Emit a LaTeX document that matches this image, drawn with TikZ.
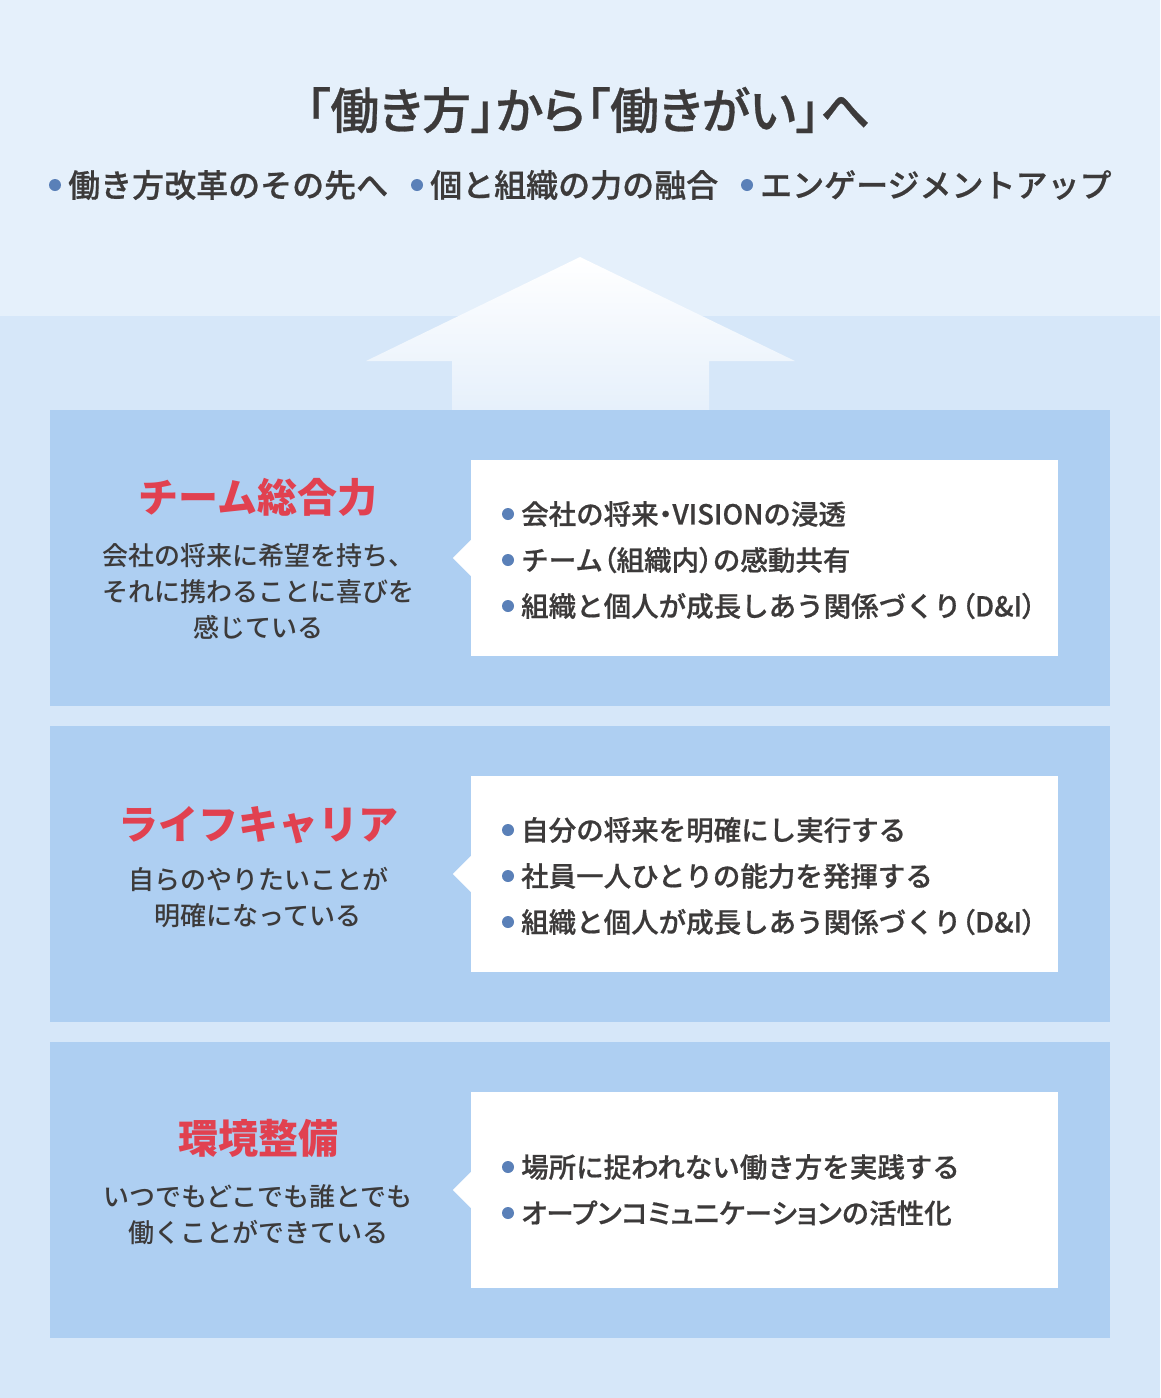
\documentclass[tikz,border=0pt]{standalone}
\usepackage{fontspec}
\setmainfont{Noto Sans CJK JP}
\newfontfamily\medfont{Noto Sans CJK JP Medium}
\newfontfamily\semifont{Noto Sans CJK JP Medium}[FakeBold=0.6]
\newcommand{\tight}[1]{{\addfontfeatures{RawFeature=+palt}#1}}
\usepackage{xcolor}
\definecolor{skytop}{RGB}{229, 240, 251}
\definecolor{skylow}{RGB}{214, 231, 249}
\definecolor{panelblue}{RGB}{174, 207, 242}
\definecolor{arrowfoot}{RGB}{230, 240, 251}
\definecolor{titlered}{RGB}{225, 65, 80}
\definecolor{inkgray}{RGB}{60, 58, 58}
\definecolor{dotblue}{RGB}{90, 128, 184}

\tikzset{
  panel/.style={fill=panelblue, minimum width=1060pt, minimum height=296pt, inner sep=0pt},
  itembox/.style={fill=white, minimum width=587pt, minimum height=196pt, inner sep=0pt},
  paneltitle/.style={text=titlered, inner sep=0pt, font=\bfseries\fontsize{40}{46}\selectfont},
  panelnote/.style={text=inkgray, inner sep=0pt, align=center, font=\medfont\fontsize{26}{36}\selectfont},
  itemline/.style={anchor=west, text=inkgray, inner sep=0pt, font=\semifont\fontsize{27.5}{30}\selectfont},
  headline/.style={anchor=west, text=inkgray, inner sep=0pt, font=\semifont\fontsize{32}{36}\selectfont}
}

\begin{document}
\begin{tikzpicture}[x=1pt, y=-1pt]
\useasboundingbox (0,0) rectangle (1160,1398);
\fill[skytop] (0,0) rectangle (1160,316);
\fill[skylow] (0,316) rectangle (1160,1398);

% heading
\node[text=inkgray, font=\semifont\fontsize{49}{54}\selectfont\addfontfeatures{RawFeature=+palt}] (title) at (588,110) {「働き方」から「働きがい」へ};
\node[headline] (aim1) at (68,185) {働き方改革のその先へ};
\node[headline] (aim2) at (430,185) {個と組織の力の融合};
\node[headline] (aim3) at (760,185) {エンゲージメントアップ};
\fill[dotblue] ([xshift=-13pt]aim1.west) circle (6pt);
\fill[dotblue] ([xshift=-13pt]aim2.west) circle (6pt);
\fill[dotblue] ([xshift=-13pt]aim3.west) circle (6pt);

% big arrow
\shade[top color=white, bottom color=arrowfoot] (580,257) -- (795,361) -- (709,361) -- (709,410)
  -- (452,410) -- (452,361) -- (366,361) -- cycle;

% team
\node[panel] (team) at (580,558) {};
\node[itembox] (teambox) at (764.5,558) {};
\fill[white] (teambox.west) ++(0,-18) -- ++(-18,18) -- ++(18,18) -- cycle;
\node[paneltitle] (teamtitle) at (258,497) {チーム総合力};
\node[panelnote] (teamnote) at (258,591) {会社の将来に希望を持ち、\\それに携わることに喜びを\\感じている};
\node[itemline] (team1) at (521,514) {会社の将来\tight{・}VISIONの浸透};
\node[itemline] (team2) at (521,560) {チーム\tight{（}組織内\tight{）}の感動共有};
\node[itemline] (team3) at (521,606) {組織と個人が成長しあう関係づくり\tight{（}D\&I\tight{）}};
\fill[dotblue] ([xshift=-13pt]team1.west) circle (6pt);
\fill[dotblue] ([xshift=-13pt]team2.west) circle (6pt);
\fill[dotblue] ([xshift=-13pt]team3.west) circle (6pt);

% life career
\node[panel] (life) at (580,874) {};
\node[itembox] (lifebox) at (764.5,874) {};
\fill[white] (lifebox.west) ++(0,-18) -- ++(-18,18) -- ++(18,18) -- cycle;
\node[paneltitle] (lifetitle) at (258,825) {ライフキャリア};
\node[panelnote] (lifenote) at (258,898) {自らのやりたいことが\\明確になっている};
\node[itemline] (life1) at (521,830) {自分の将来を明確にし実行する};
\node[itemline] (life2) at (521,876) {社員一人ひとりの能力を発揮する};
\node[itemline] (life3) at (521,922) {組織と個人が成長しあう関係づくり\tight{（}D\&I\tight{）}};
\fill[dotblue] ([xshift=-13pt]life1.west) circle (6pt);
\fill[dotblue] ([xshift=-13pt]life2.west) circle (6pt);
\fill[dotblue] ([xshift=-13pt]life3.west) circle (6pt);

% environment
\node[panel] (env) at (580,1190) {};
\node[itembox] (envbox) at (764.5,1190) {};
\fill[white] (envbox.west) ++(0,-18) -- ++(-18,18) -- ++(18,18) -- cycle;
\node[paneltitle] (envtitle) at (258,1138) {環境整備};
\node[panelnote] (envnote) at (258,1215) {いつでもどこでも誰とでも\\働くことができている};
\node[itemline] (env1) at (521,1167) {場所に捉われない働き方を実践する};
\node[itemline] (env2) at (521,1213) {\tight{オープンコミュニケーション}の活性化};
\fill[dotblue] ([xshift=-13pt]env1.west) circle (6pt);
\fill[dotblue] ([xshift=-13pt]env2.west) circle (6pt);
\end{tikzpicture}
\end{document}
